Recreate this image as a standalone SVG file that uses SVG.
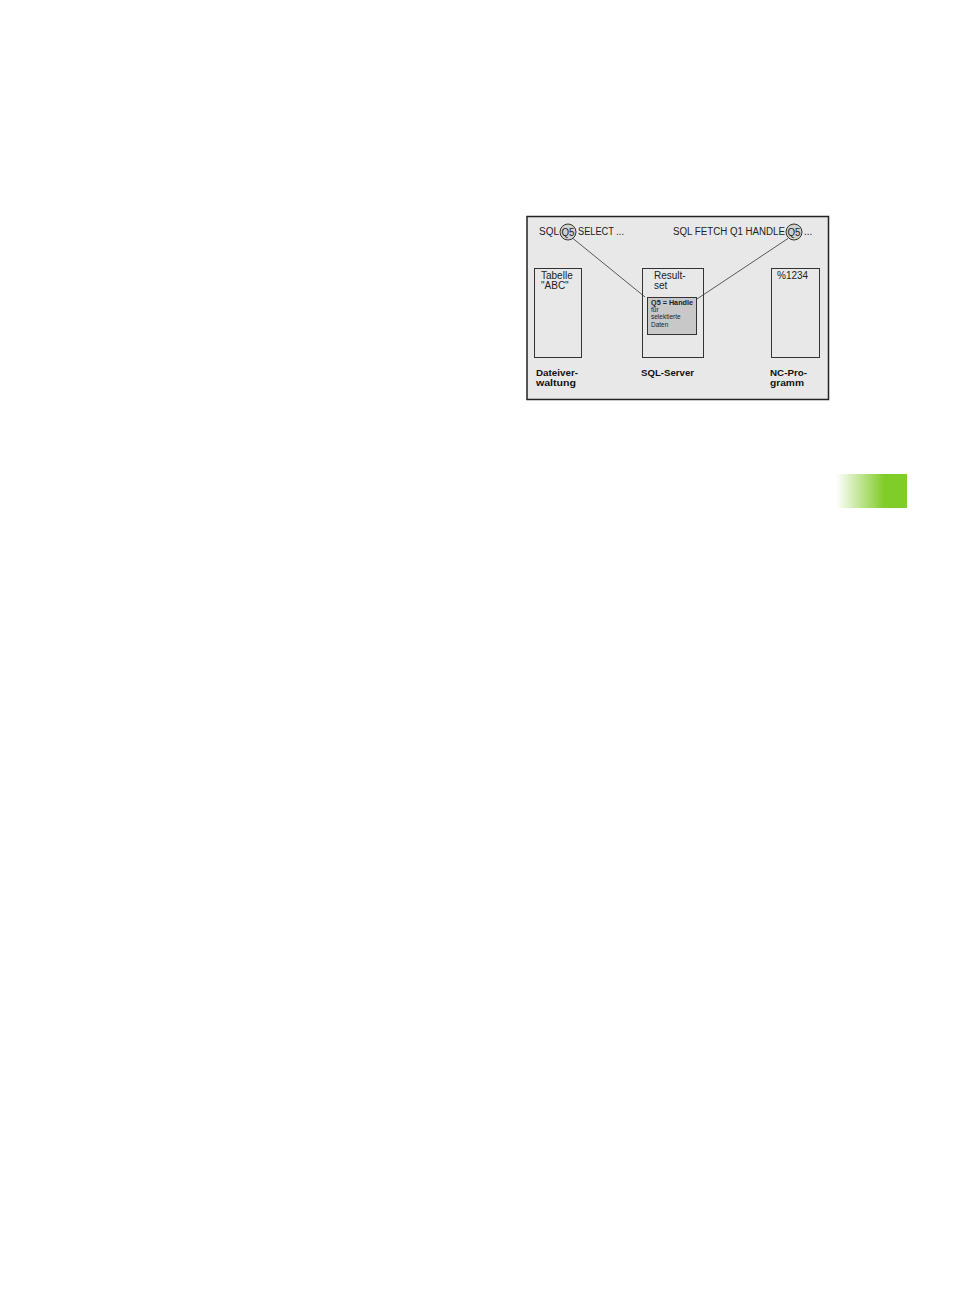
<svg xmlns="http://www.w3.org/2000/svg" width="954" height="1307" viewBox="0 0 954 1307">
<defs>
<linearGradient id="g" x1="0" y1="0" x2="1" y2="0">
<stop offset="0" stop-color="#ffffff"/>
<stop offset="0.68" stop-color="#80cc28"/>
<stop offset="1" stop-color="#80cc28"/>
</linearGradient>
<style>
.t{font-family:"Liberation Sans",Arial,sans-serif;font-size:10px;fill:#222}
.b{font-family:"Liberation Sans",Arial,sans-serif;font-size:9.5px;font-weight:bold;fill:#111}
.s{font-family:"Liberation Sans",Arial,sans-serif;font-size:6.5px;fill:#222}
.box{fill:none;stroke:#333;stroke-width:1}
.ln{stroke:#333;stroke-width:0.8;fill:none}
</style>
</defs>
<rect width="954" height="1307" fill="#fff"/>
<rect x="836" y="474" width="71" height="34" fill="url(#g)"/>
<g id="frame">
<rect x="527" y="216.5" width="301.5" height="183" fill="#e8e8e8" stroke="#222" stroke-width="1.5"/>
</g>
<g id="connectors">
<line class="ln" x1="573" y1="238.5" x2="645" y2="297"/>
<line class="ln" x1="788" y1="238.5" x2="697" y2="299"/>
</g>
<g id="header">
<text class="t" x="539" y="235" textLength="20" lengthAdjust="spacingAndGlyphs">SQL</text>
<circle cx="568" cy="232" r="8" fill="#d0d0d0" stroke="#333" stroke-width="1"/>
<text class="t" x="561.5" y="235.5" font-size="9" textLength="13" lengthAdjust="spacingAndGlyphs">Q5</text>
<text class="t" x="578" y="235" textLength="46" lengthAdjust="spacingAndGlyphs">SELECT ...</text>
<text class="t" x="673" y="235" textLength="112" lengthAdjust="spacingAndGlyphs">SQL FETCH Q1 HANDLE</text>
<circle cx="794" cy="232" r="8" fill="#d0d0d0" stroke="#333" stroke-width="1"/>
<text class="t" x="787.5" y="235.5" font-size="9" textLength="13" lengthAdjust="spacingAndGlyphs">Q5</text>
<text class="t" x="804" y="235">...</text>
</g>
<g id="dateiverwaltung">
<rect class="box" x="534.5" y="268.5" width="47" height="89"/>
<text class="t" x="541" y="279">Tabelle</text>
<text class="t" x="541" y="289">"ABC"</text>
<text class="b" x="536" y="376" textLength="42" lengthAdjust="spacingAndGlyphs">Dateiver-</text>
<text class="b" x="536" y="386" textLength="40" lengthAdjust="spacingAndGlyphs">waltung</text>
</g>
<g id="sqlserver">
<rect class="box" x="642.5" y="268.5" width="61" height="89"/>
<text class="t" x="654" y="279">Result-</text>
<text class="t" x="654" y="289">set</text>
<rect x="647.5" y="297.5" width="49" height="37" fill="#c8c8c8" stroke="#333" stroke-width="1"/>
<text class="s" x="651" y="305" font-weight="bold" textLength="42" lengthAdjust="spacingAndGlyphs">Q5 = Handle</text>
<text class="s" x="651" y="312">für</text>
<text class="s" x="651" y="319">selektierte</text>
<text class="s" x="651" y="327">Daten</text>
<text class="b" x="641" y="376" textLength="53" lengthAdjust="spacingAndGlyphs">SQL-Server</text>
</g>
<g id="ncprogramm">
<rect class="box" x="771.5" y="268.5" width="48" height="89"/>
<text class="t" x="777" y="279">%1234</text>
<text class="b" x="770" y="376" textLength="37" lengthAdjust="spacingAndGlyphs">NC-Pro-</text>
<text class="b" x="770" y="386" textLength="34" lengthAdjust="spacingAndGlyphs">gramm</text>
</g>
</svg>
